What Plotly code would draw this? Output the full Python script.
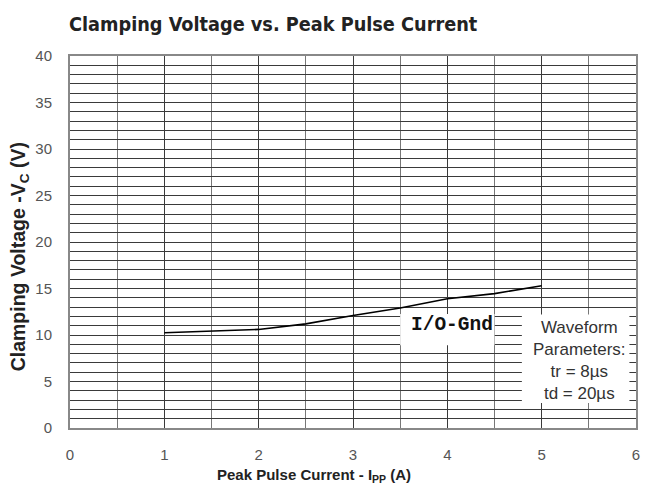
import plotly.graph_objects as go

# Data
current_a = [1.0, 1.5, 2.0, 2.5, 3.0, 3.5, 4.0, 4.5, 5.0]
clamp_v = [10.25, 10.4, 10.6, 11.2, 12.1, 12.9, 13.9, 14.45, 15.3]
x_ticks = [0, 1, 2, 3, 4, 5, 6]
y_ticks = [0, 5, 10, 15, 20, 25, 30, 35, 40]

title_text = "Clamping Voltage vs. Peak Pulse Current"
x_title = "Peak Pulse Current - I<sub>PP</sub> (A)"
y_title = "Clamping Voltage -V<sub>C</sub> (V)"
series_label = "I/O-Gnd"
waveform_text = "Waveform<br>Parameters:<br>tr = 8µs<br>td = 20µs"

grid_col = "#3a3a3a"

fig = go.Figure()
fig.add_trace(go.Scatter(
    x=current_a, y=clamp_v, mode="lines",
    line=dict(color="black", width=1.6),
    showlegend=False, hoverinfo="skip"))

fig.update_layout(
    width=646, height=496,
    margin=dict(l=70, r=6, t=56, b=68),
    paper_bgcolor="white", plot_bgcolor="white",
    showlegend=False,
    xaxis=dict(
        range=[0, 6], tickvals=x_ticks, ticktext=[str(v) for v in x_ticks],
        showgrid=True, gridcolor=grid_col, gridwidth=1.2,
        minor=dict(dtick=0.5, showgrid=True, gridcolor="#777777", gridwidth=1.2),
        showline=True, linecolor="#888888", linewidth=2, mirror=True,
        ticks="", ticklabelstandoff=12, ticklabeloverflow="allow",
        tickfont=dict(family="Liberation Sans, Arial", size=15, color="#555555"),
        zeroline=False, fixedrange=True),
    yaxis=dict(
        range=[0, 40], tickvals=y_ticks, ticktext=[str(v) for v in y_ticks],
        showgrid=True, gridcolor=grid_col, gridwidth=1.3,
        minor=dict(dtick=1, showgrid=True, gridcolor=grid_col, gridwidth=1.3),
        showline=True, linecolor="#888888", linewidth=2, mirror=True,
        ticks="", ticklabelstandoff=13, ticklabeloverflow="allow",
        tickfont=dict(family="Liberation Sans, Arial", size=15, color="#555555"),
        zeroline=False, fixedrange=True),
    shapes=[
        dict(type="rect", xref="x", yref="y", x0=3.5, x1=4.5, y0=8.9, y1=12.25,
             fillcolor="white", line=dict(width=0), layer="above"),
        dict(type="rect", xref="x", yref="y", x0=4.79, x1=5.93, y0=2.7, y1=12.2,
             fillcolor="white", line=dict(width=0), layer="above"),
    ],
)

annotations = [
    dict(text="<b>" + title_text + "</b>", xref="paper", yref="paper",
         x=(275 - 70) / 570, y=(428 - 24) / 372, xanchor="center", yanchor="middle",
         showarrow=False,
         font=dict(family="DejaVu Sans Condensed, Liberation Sans Narrow, Arial Narrow", size=19.7, color="#222222")),
    dict(text="<b>" + x_title + "</b>", xref="paper", yref="paper",
         x=(316 - 70) / 570, y=(428 - 475) / 372, xanchor="center", yanchor="middle",
         showarrow=False,
         font=dict(family="Liberation Sans, Arial", size=15, color="#222222")),
    dict(text="<b>" + y_title + "</b>", xref="paper", yref="paper",
         x=(19 - 70) / 570, y=(428 - 257) / 372, xanchor="center", yanchor="middle",
         textangle=-90, showarrow=False,
         font=dict(family="Liberation Sans, Arial", size=19.5, color="#222222")),
    dict(text="<b>" + series_label + "</b>", xref="x", yref="y",
         x=4.05, y=11.05, xanchor="center", yanchor="middle", showarrow=False,
         font=dict(family="Liberation Mono, DejaVu Sans Mono, Courier New", size=19.5, color="#111111")),
    dict(text=waveform_text, xref="x", yref="y",
         x=5.40, y=7.31, xanchor="center", yanchor="middle", showarrow=False,
         font=dict(family="Liberation Sans, Arial", size=17, color="#333333")),
]
fig.update_layout(annotations=annotations)

# remove the default 8px page margin so the figure sits at the window origin
fig.write_html(
    "out.html",
    config={"displayModeBar": False},
    post_script="document.body.style.margin='0';document.body.style.overflow='hidden';",
)
